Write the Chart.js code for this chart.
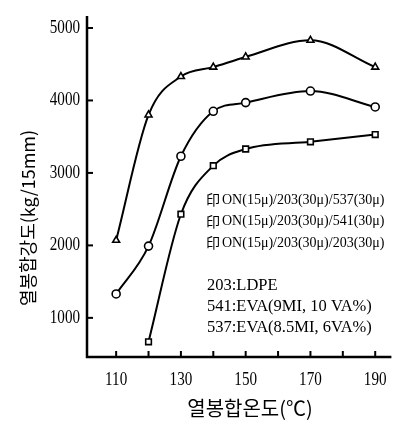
<!DOCTYPE html>
<html>
<head>
<meta charset="utf-8">
<script src="https://cdn.jsdelivr.net/npm/chart.js@4"></script>
<style>
  html, body { margin: 0; padding: 0; background: #fff; }
  #wrap { width: 397px; height: 425px; }
</style>
</head>
<body>
<div id="wrap"><canvas id="seal"></canvas></div>
<script>
// temperatures (°C) and heat seal strength (kg/15mm)
var temps537 = [110, 120, 130, 140, 150, 170, 190];
var seal537 = [2070, 3800, 4330, 4460, 4600, 4830, 4460];
var temps541 = [110, 120, 130, 140, 150, 170, 190];
var seal541 = [1330, 1990, 3230, 3850, 3970, 4130, 3910];
var temps203 = [120, 130, 140, 150, 170, 190];
var seal203 = [670, 2430, 3100, 3330, 3430, 3530];
var xTickLabels = [110, 130, 150, 170, 190];
var yTickLabels = [1000, 2000, 3000, 4000, 5000];

var legendLines = [
  'ON(15\u03bc)/203(30\u03bc)/537(30\u03bc)',
  'ON(15\u03bc)/203(30\u03bc)/541(30\u03bc)',
  'ON(15\u03bc)/203(30\u03bc)/203(30\u03bc)'
];
var noteLines = ['203:LDPE', '541:EVA(9MI, 10 VA%)', '537:EVA(8.5MI, 6VA%)'];

function pts(xs, ys) {
  return xs.map(function (x, i) { return { x: x, y: ys[i] }; });
}

function series(label, xs, ys, shape) {
  return {
    label: label,
    data: pts(xs, ys),
    borderColor: '#000',
    borderWidth: 2,
    backgroundColor: '#fff',
    pointStyle: shape,
    pointRadius: 4,
    pointBorderWidth: 1.6,
    pointBackgroundColor: '#fff',
    pointBorderColor: '#000',
    cubicInterpolationMode: 'monotone',
    fill: false
  };
}

// condensed serif numbers, like the scanned figure
function narrowText(c, s, x, y, align) {
  c.save();
  c.translate(x, y);
  c.scale(0.84, 1);
  c.textAlign = align;
  c.fillText(s, 0, 0);
  c.restore();
}

// inward ticks and all the text annotations
var decor = {
  id: 'decor',
  afterDraw: function (chart) {
    var c = chart.ctx, xs = chart.scales.x, ys = chart.scales.y, a = chart.chartArea;
    c.save();
    c.strokeStyle = '#000';
    c.lineWidth = 2.5;
    c.beginPath();
    c.moveTo(a.left, a.top - 4);
    c.lineTo(a.left, a.bottom);
    c.lineTo(a.right, a.bottom);
    c.stroke();
    c.lineWidth = 2;
    for (var t = 110; t <= 190; t += 10) {
      var px = xs.getPixelForValue(t);
      c.beginPath(); c.moveTo(px, a.bottom); c.lineTo(px, a.bottom - 6); c.stroke();
    }
    yTickLabels.forEach(function (v) {
      var py = ys.getPixelForValue(v);
      c.beginPath(); c.moveTo(a.left, py); c.lineTo(a.left + 6, py); c.stroke();
    });
    c.fillStyle = '#000';
    c.font = '18px "Liberation Serif"';
    c.textBaseline = 'middle';
    xTickLabels.forEach(function (v) {
      narrowText(c, String(v), xs.getPixelForValue(v), a.bottom + 23, 'center');
    });
    yTickLabels.forEach(function (v) {
      narrowText(c, String(v), a.left - 7, ys.getPixelForValue(v), 'right');
    });
    // axis titles
    c.font = '20px "Noto Sans CJK KR"';
    c.textAlign = 'center';
    c.fillText('열봉합온도(\u2103)', 250, 408);
    c.font = '18px "Noto Sans CJK KR"';
    c.save();
    c.translate(28, 218);
    c.rotate(-Math.PI / 2);
    c.fillText('열봉합강도(kg/15mm)', 0, 0);
    c.restore();
    // legend text
    c.textAlign = 'left';
    legendLines.forEach(function (s, i) {
      var y = 200 + i * 21.5;
      c.font = '14px "Noto Sans CJK KR"';
      c.fillText('印', 206, y);
      c.font = '14px "Liberation Serif"';
      c.fillText(s, 222, y);
    });
    c.font = '16.5px "Liberation Serif"';
    noteLines.forEach(function (s, i) {
      c.fillText(s, 207, 286 + i * 21);
    });
    c.restore();
  }
};

new Chart(document.getElementById('seal'), {
  type: 'line',
  data: {
    datasets: [
      series('537', temps537, seal537, 'triangle'),
      series('541', temps541, seal541, 'circle'),
      series('203', temps203, seal203, 'rect')
    ]
  },
  options: {
    responsive: true,
    maintainAspectRatio: false,
    animation: false,
    layout: { padding: { top: 20, right: 5, left: 0, bottom: 0 } },
    plugins: { legend: { display: false }, tooltip: { enabled: false } },
    scales: {
      x: {
        type: 'linear', min: 101, max: 195,
        grid: { display: false },
        border: { display: false },
        ticks: { display: false },
        afterFit: function (s) { s.height = 68; }
      },
      y: {
        min: 460, max: 5110,
        grid: { display: false },
        border: { display: false },
        ticks: { display: false },
        afterFit: function (s) { s.width = 87; }
      }
    }
  },
  plugins: [decor]
});
</script>
</body>
</html>
